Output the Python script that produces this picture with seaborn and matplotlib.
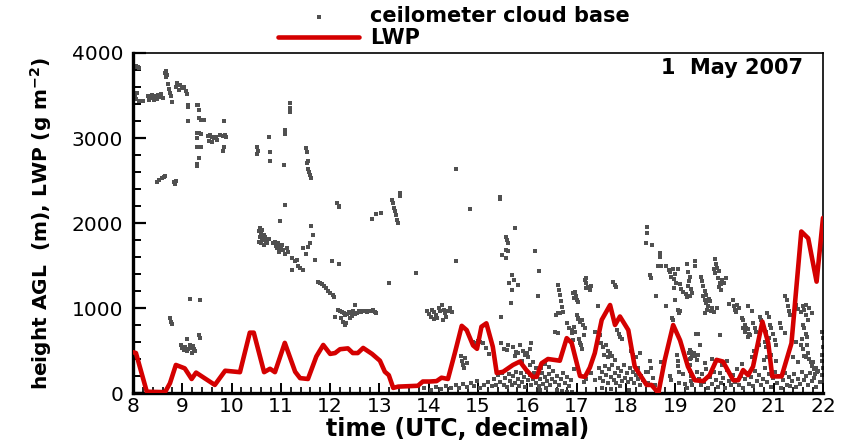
import numpy as np
import pandas as pd
import matplotlib
matplotlib.use("Agg")
import matplotlib.pyplot as plt
import seaborn as sns
from matplotlib.ticker import MultipleLocator

# ---------------------------------------------------------------------------
# Ceilometer cloud-base detections (time in decimal UTC hours, height in m AGL)
# ---------------------------------------------------------------------------
cb_time_08_10 = [
    8.03, 8.06, 8.10, 8.12, 8.03, 8.05, 8.08, 8.06, 8.12, 8.21,
    8.33, 8.36, 8.39, 8.42, 8.45, 8.48, 8.51, 8.54, 8.57, 8.60,
    8.65, 8.67, 8.69, 8.66, 8.71, 8.73, 8.76, 8.78, 8.80, 8.87,
    8.89, 8.93, 8.96, 9.00, 9.03, 9.07, 9.10, 8.48, 8.53, 8.58,
    8.62, 8.65, 8.83, 8.85, 8.87, 8.75, 8.77, 8.80, 8.97, 9.00,
    9.03, 9.06, 9.09, 9.12, 9.15, 9.18, 9.09, 9.12, 9.12, 9.12,
    9.29, 9.32, 9.34, 9.34, 9.37, 9.44, 9.29, 9.33, 9.38, 9.29,
    9.29, 9.38, 9.33, 9.29, 9.30, 9.52, 9.57, 9.60, 9.64, 9.68,
    9.76, 9.82, 9.86, 9.88, 9.55, 9.60, 9.70, 9.85, 9.82, 9.85,
    9.16, 9.35, 9.33, 9.36, 9.22, 9.26, 9.20, 9.24, 8.40, 8.30,
]
cb_height_08_10 = [
    3840, 3850, 3830, 3820, 3480, 3510, 3530, 3460, 3440, 3430,
    3450, 3480, 3510, 3450, 3490, 3460, 3500, 3480, 3520, 3470,
    3760, 3790, 3740, 3720, 3640, 3580, 3530, 3490, 3420, 3600,
    3650, 3570, 3620, 3590, 3600, 3550, 3520, 2480, 2510, 2525,
    2540, 2550, 2480, 2460, 2490, 880, 840, 810, 560, 530,
    510, 540, 500, 520, 560, 530, 630, 3390, 3360, 3200,
    3390, 3390, 3330, 3240, 3210, 3210, 3060, 3060, 3050, 3000,
    2890, 2890, 2770, 2690, 2670, 3020, 3040, 3010, 3000, 3010,
    3040, 3020, 3030, 3010, 2960, 2950, 2980, 2890, 2850, 3200,
    1110, 1100, 680, 650, 550, 500, 470, 520, 3470, 3490,
]

cb_time_10_12 = [
    10.51, 10.52, 10.53, 10.76, 10.78, 10.78, 10.55, 10.57, 10.60, 10.58,
    10.62, 10.65, 10.56, 10.60, 10.64, 10.68, 10.70, 10.72, 10.66, 10.75,
    10.62, 10.98, 10.84, 10.88, 10.91, 10.93, 10.95, 10.98, 11.00, 11.02,
    10.96, 11.05, 11.08, 11.12, 11.15, 11.22, 11.29, 11.39, 11.22, 11.45,
    11.34, 11.32, 11.06, 11.18, 11.18, 11.18, 11.08, 11.08, 11.08, 11.45,
    11.52, 11.59, 11.62, 11.66, 11.56, 11.69, 11.51, 11.53, 11.55, 11.54,
    11.55, 11.57, 11.59, 11.62, 11.75, 11.79, 11.83, 11.87, 11.92, 11.96,
    12.00, 12.05, 12.08, 12.03, 12.17,
]
cb_height_10_12 = [
    2890, 2810, 2850, 3010, 2840, 2730, 1900, 1940, 1880, 1840,
    1920, 1860, 1780, 1760, 1800, 1840, 1790, 1760, 1740, 1810,
    1820, 2020, 1760, 1780, 1730, 1700, 1760, 1720, 1690, 1740,
    1660, 1680, 1640, 1700, 1660, 1590, 1550, 1470, 1450, 1450,
    1500, 1560, 2680, 3410, 3350, 3300, 3090, 3050, 2210, 1700,
    1640, 1760, 1960, 1860, 1720, 1565, 2880, 2840, 2730, 2700,
    2640, 2600, 2570, 2530, 1310, 1300, 1280, 1260, 1230, 1200,
    1180, 1150, 1130, 1550, 1520,
]

cb_time_12_14 = [
    12.14, 12.17, 12.18, 12.16, 12.20, 12.24, 12.28, 12.30, 12.34, 12.38,
    12.42, 12.46, 12.50, 12.54, 12.58, 12.62, 12.66, 12.70, 12.74, 12.78,
    12.82, 12.86, 12.90, 12.94, 12.26, 12.30, 12.33, 12.22, 12.40, 12.50,
    12.84, 12.94, 13.04, 13.25, 13.27, 13.29, 13.31, 13.33, 13.35, 13.37,
    13.41, 13.42, 13.20, 13.75, 13.97, 14.00, 14.04, 14.06, 14.10, 14.14,
    14.17, 14.20, 14.23, 14.26, 14.30, 14.33, 14.36, 14.40, 14.44, 14.47,
    14.10, 14.28, 13.90, 14.05, 14.15, 14.25, 14.35, 14.45, 12.10, 12.45,
]
cb_height_12_14 = [
    2230, 2190, 2200, 980, 960, 950, 940, 920, 930, 950,
    940, 960, 930, 940, 960, 950, 970, 960, 950, 970,
    960, 980, 950, 940, 830, 800, 820, 880, 880, 1035,
    2050, 2110, 2120, 2270, 2230, 2180, 2140, 2090, 2040, 2000,
    2350, 2320, 1300, 1410, 960, 930, 900, 980, 950, 920,
    880, 1000, 960, 1030, 980, 940, 900, 970, 1000, 950,
    870, 860, 60, 40, 70, 50, 80, 60, 900, 910,
]

cb_time_14_16 = [
    14.55, 14.56, 14.84, 14.66, 14.68, 14.70, 14.72, 14.77, 14.74, 14.90,
    14.95, 15.00, 15.05, 15.10, 14.55, 14.62, 14.70, 14.78, 14.85, 14.92,
    14.98, 15.05, 15.12, 15.20, 15.28, 15.17, 15.22, 15.44, 15.44, 15.75,
    15.57, 15.58, 15.61, 15.56, 15.61, 15.48, 15.57, 15.68, 15.73, 15.63,
    15.82, 15.68, 15.66, 15.47, 16.15, 16.24, 16.22, 15.47, 15.52, 15.58,
    15.61, 15.70, 15.78, 15.85, 15.92, 16.00, 16.08, 16.05, 15.75, 15.82,
    15.90, 15.96, 16.02, 16.05, 16.12, 16.18, 16.27, 16.35, 16.45, 15.40,
]
cb_height_14_16 = [
    2640, 1550, 2170, 430, 380, 330, 290, 350, 410, 600,
    590, 610, 600, 590, 90, 60, 110, 70, 120, 80,
    140, 60, 100, 130, 80, 530, 460, 2310, 2280, 1940,
    1840, 1800, 1760, 1680, 1670, 1620, 1590, 1390, 1330, 1290,
    1270, 1210, 1055, 900, 1670, 1430, 1140, 585, 520, 505,
    560, 540, 480, 560, 500, 470, 590, 520, 440, 470,
    380, 450, 420, 330, 370, 300, 290, 340, 310, 240,
]

cb_time_16_18 = [
    16.62, 16.64, 16.66, 16.68, 16.70, 16.72, 16.62, 16.96, 16.98, 17.00,
    17.02, 17.20, 17.20, 17.20, 16.56, 16.59, 16.62, 16.66, 16.80, 16.85,
    16.90, 16.95, 16.97, 17.02, 17.05, 17.07, 17.17, 17.24, 17.27, 17.30,
    16.92, 16.95, 17.00, 17.03, 17.06, 17.10, 17.13, 17.17, 17.44, 16.90,
    16.93, 17.08, 17.12, 17.15, 17.37, 17.47, 17.50, 17.53, 17.60, 17.64,
    17.56, 17.63, 17.68, 17.72, 17.78, 17.74, 17.77, 17.81, 17.83, 17.86,
    17.88, 17.92, 18.11, 18.15, 18.20, 18.28, 16.60, 16.70, 16.80, 16.90,
]
cb_height_16_18 = [
    1270, 1210, 1150, 1080, 1010, 950, 940, 1190, 1140, 1100,
    1070, 1350, 1290, 1230, 720, 920, 710, 940, 820, 760,
    710, 780, 720, 870, 640, 590, 1330, 1250, 1210, 1260,
    1180, 1120, 920, 880, 840, 860, 800, 760, 1020, 740,
    620, 560, 520, 680, 720, 680, 590, 540, 560, 500,
    450, 420, 470, 440, 390, 1310, 1270, 1250, 740, 700,
    660, 640, 490, 450, 420, 470, 30, 25, 15, 10,
]

cb_time_18_20 = [
    18.42, 18.43, 18.40, 18.54, 18.69, 18.69, 18.66, 18.72, 18.49, 18.52,
    18.62, 18.82, 18.82, 18.87, 18.90, 18.95, 18.92, 18.97, 19.00, 19.05,
    19.02, 18.98, 19.10, 19.12, 19.15, 19.22, 19.25, 19.24, 19.26, 19.05,
    19.08, 19.10, 18.93, 18.96, 18.72, 18.75, 18.49, 18.52, 19.03, 19.05,
    19.06, 19.07, 19.28, 19.30, 19.31, 19.30, 19.32, 19.15, 19.40, 19.41,
    19.80, 19.82, 19.79, 19.81, 19.85, 19.88, 19.86, 19.90, 19.93, 19.89,
    19.93, 19.96, 20.00, 20.04, 19.30, 19.28, 19.26, 19.33, 19.35, 19.31,
    19.53, 19.55, 19.57, 19.60, 19.62, 19.57, 19.60, 19.63, 19.66, 19.70,
    19.68, 19.65, 19.60, 19.72, 19.75, 19.78, 19.84, 19.30, 19.32, 19.35,
    19.38, 19.40, 19.33, 19.45, 19.47, 19.43, 19.47, 19.50, 19.90, 19.00,
]
cb_height_18_20 = [
    1950, 1880, 1760, 1740, 1650, 1600, 1500, 1500, 1390, 1350,
    1140, 1020, 1500, 1450, 1420, 1460, 1370, 1340, 1400, 1460,
    1300, 1240, 1280, 1220, 1190, 1160, 1130, 1520, 1420, 980,
    940, 960, 880, 860, 370, 290, 380, 300, 450, 380,
    320, 250, 470, 400, 330, 260, 200, 220, 1550, 1490,
    1580, 1520, 1460, 1410, 1470, 1430, 1350, 1300, 1280, 1250,
    1210, 1330, 1290, 1350, 1370, 1320, 1260, 1220, 1180, 1140,
    1370, 1320, 1260, 1200, 1150, 1140, 1100, 1060, 1020, 1080,
    1110, 980, 940, 960, 1000, 950, 1000, 510, 480, 440,
    470, 440, 410, 390, 450, 700, 690, 560, 680, 1100,
]

cb_time_20_22 = [
    20.17, 20.19, 20.21, 20.23, 20.26, 20.30, 20.47, 20.55, 20.35, 20.38,
    20.42, 20.44, 20.47, 20.49, 20.52, 20.48, 20.42, 20.38, 20.58, 20.62,
    20.65, 20.72, 20.75, 20.87, 20.90, 20.85, 20.82, 20.84, 20.90, 20.88,
    20.86, 20.80, 20.92, 20.95, 20.99, 21.02, 21.05, 21.12, 21.15, 21.22,
    21.22, 21.26, 21.29, 21.31, 21.33, 21.46, 21.50, 21.55, 21.60, 21.62,
    21.66, 21.70, 21.65, 21.72, 21.77, 21.60, 21.62, 21.65, 21.67, 21.58,
    21.56, 21.60, 21.68, 21.70, 21.62, 21.66, 21.72, 21.75, 21.78, 21.80,
    21.82, 21.85, 21.88, 21.84, 21.98, 21.99, 22.00, 21.97, 21.98, 20.10,
]
cb_height_20_22 = [
    1090, 1020, 980, 950, 1040, 1000, 1020, 960, 880, 860,
    800, 770, 750, 700, 680, 660, 720, 760, 820, 760,
    720, 900, 860, 940, 900, 720, 600, 540, 650, 580,
    420, 390, 800, 760, 700, 620, 560, 820, 760, 710,
    1140, 1100, 1020, 970, 920, 1040, 990, 950, 1020, 980,
    920, 860, 1040, 1000, 940, 800, 760, 700, 660, 640,
    560, 520, 560, 470, 430, 420, 400, 370, 320, 360,
    280, 300, 250, 220, 720, 650, 540, 450, 380, 1050,
]

# shallow (boundary-layer) cloud bases, afternoon
cb_time_low_a = [
    15.32, 15.36, 15.40, 15.44, 15.48, 15.52, 15.55, 15.58, 15.62, 15.65,
    15.68, 15.72, 15.75, 15.78, 15.81, 15.84, 15.87, 15.90, 15.93, 15.96,
    15.99, 16.02, 16.05, 16.08, 16.11, 16.14, 16.17, 16.20, 16.23, 16.26,
    16.29, 16.32, 16.35, 16.38, 16.41, 16.44, 16.47, 16.50, 16.53, 16.56,
    16.60, 16.64, 16.68, 16.72, 16.76, 16.80, 16.84, 16.88, 16.95, 17.15,
    17.20, 17.30, 17.38, 17.45, 17.48, 17.51, 17.54, 17.57, 17.60, 17.63,
    17.66, 17.69, 17.72, 17.75, 17.78, 17.81, 17.84, 17.87, 17.90, 17.93,
    17.96, 17.99, 18.02, 18.05, 18.08, 18.11, 18.14, 18.17, 18.20, 18.24,
    18.28, 18.25, 18.30, 18.35, 18.40, 18.45, 18.55, 18.60, 19.08, 19.33,
    19.35, 19.20, 18.90, 18.92, 18.45, 17.52, 17.70, 17.88, 18.06, 16.25,
]
cb_height_low_a = [
    160, 90, 210, 130, 240, 100, 180, 70, 220, 140,
    90, 200, 120, 250, 160, 80, 230, 130, 190, 70,
    250, 150, 210, 90, 170, 240, 120, 200, 80, 160,
    230, 110, 190, 60, 140, 220, 100, 170, 260, 130,
    200, 90, 160, 240, 120, 190, 80, 150, 280, 130,
    170, 240, 150, 300, 180, 250, 140, 320, 210, 120,
    280, 190, 330, 150, 240, 120, 300, 200, 260, 140,
    330, 180, 230, 130, 290, 170, 250, 120, 210, 160,
    90, 300, 200, 150, 250, 120, 180, 90, 120, 140,
    90, 110, 200, 150, 250, 60, 50, 80, 40, 40,
]

cb_time_low_b = [
    19.45, 19.48, 19.52, 19.55, 19.58, 19.62, 19.66, 19.70, 19.74, 19.78,
    19.82, 19.86, 19.90, 19.94, 19.98, 20.02, 20.06, 20.10, 20.14, 20.18,
    20.22, 20.26, 20.30, 20.34, 20.38, 20.42, 20.46, 20.50, 20.54, 20.58,
    20.62, 20.66, 20.70, 20.74, 20.78, 20.82, 20.86, 20.90, 20.94, 20.98,
    21.02, 21.06, 21.10, 21.14, 21.18, 21.22, 21.26, 21.30, 21.34, 21.38,
    21.42, 21.46, 21.50, 21.54, 21.58, 21.62, 21.66, 21.70, 21.74, 21.78,
    21.82, 21.86, 21.90, 21.94, 21.97, 21.99, 19.60, 19.75, 19.95, 20.05,
    20.35, 20.55, 20.60, 20.70, 20.95, 21.05, 21.40, 21.45, 21.50, 19.25,
]
cb_height_low_b = [
    250, 160, 90, 220, 130, 280, 60, 190, 110, 250,
    150, 70, 230, 120, 180, 60, 270, 140, 90, 210,
    130, 280, 100, 200, 60, 170, 240, 110, 190, 80,
    260, 140, 210, 90, 170, 300, 130, 220, 70, 180,
    250, 120, 200, 60, 150, 240, 100, 190, 80, 140,
    220, 70, 170, 110, 250, 150, 200, 90, 230, 140,
    180, 70, 260, 130, 210, 290, 350, 400, 330, 380,
    340, 420, 500, 560, 450, 380, 420, 600, 360, 60,
]

# ---------------------------------------------------------------------------
# Microwave-radiometer liquid water path (g m-2)
# ---------------------------------------------------------------------------
lwp_time = [
    8.00, 8.06, 8.28, 8.65, 8.75, 8.87, 9.05, 9.19, 9.28, 9.66,
    9.87, 10.17, 10.37, 10.45, 10.66, 10.78, 10.88, 11.08, 11.29, 11.39,
    11.55, 11.72, 11.86, 12.00, 12.10, 12.20, 12.36, 12.46, 12.56, 12.67,
    12.85, 13.01, 13.11, 13.19, 13.28, 13.38, 13.78, 13.88, 14.02, 14.16,
    14.26, 14.39, 14.53, 14.67, 14.77, 14.90, 14.98, 15.07, 15.17, 15.30,
    15.38, 15.51, 15.71, 15.85, 15.98, 16.11, 16.19, 16.29, 16.42, 16.66,
    16.80, 16.90, 17.07, 17.17, 17.27, 17.37, 17.51, 17.68, 17.78, 17.88,
    18.05, 18.18, 18.42, 18.52, 18.66, 18.79, 18.96, 19.10, 19.26, 19.40,
    19.57, 19.70, 19.84, 19.97, 20.18, 20.28, 20.38, 20.48, 20.58, 20.77,
    20.89, 20.97, 21.16, 21.36, 21.56, 21.70, 21.87, 22.00,
]
lwp_value = [
    480, 470, 15, 10, 115, 330, 290, 165, 240, 95,
    262, 245, 710, 710, 245, 285, 245, 590, 250, 175,
    165, 430, 565, 460, 470, 515, 525, 470, 470, 530,
    460, 380, 250, 210, 60, 75, 85, 135, 135, 140,
    180, 165, 470, 790, 740, 560, 520, 780, 820, 545,
    235, 250, 330, 370, 270, 190, 190, 350, 400, 380,
    645, 590, 200, 190, 300, 470, 860, 1035, 800, 900,
    740, 310, 95, 95, 0, 390, 800, 620, 310, 150,
    140, 210, 390, 370, 150, 150, 270, 210, 310, 840,
    585, 195, 195, 585, 1900, 1820, 1310, 2060,
]

x_ticks = list(range(8, 23))
y_ticks = [0, 1000, 2000, 3000, 4000]

cloud = pd.DataFrame({
    "time": (cb_time_08_10 + cb_time_10_12 + cb_time_12_14 + cb_time_14_16
             + cb_time_16_18 + cb_time_18_20 + cb_time_20_22
             + cb_time_low_a + cb_time_low_b),
    "height": (cb_height_08_10 + cb_height_10_12 + cb_height_12_14
               + cb_height_14_16 + cb_height_16_18 + cb_height_18_20
               + cb_height_20_22 + cb_height_low_a + cb_height_low_b),
})
lwp = pd.DataFrame({"time": lwp_time, "lwp": lwp_value})

# ---------------------------------------------------------------------------
sns.set_theme(style="ticks")
plt.rcParams["font.family"] = ["DejaVu Sans"]
plt.rcParams["text.color"] = "black"
plt.rcParams["axes.labelcolor"] = "black"
plt.rcParams["xtick.color"] = "black"
plt.rcParams["ytick.color"] = "black"

fig = plt.figure(figsize=(8.44, 4.40), dpi=100)
ax = fig.add_axes([133 / 844, 47 / 440, 690 / 844, 340 / 440])

sns.scatterplot(data=cloud, x="time", y="height", marker="s", s=11,
                color="#505050", linewidth=0, ax=ax,
                label="ceilometer cloud base", zorder=2)
sns.lineplot(data=lwp, x="time", y="lwp", color="#d40000", linewidth=3.3,
             estimator=None, ax=ax, label="LWP", zorder=3)

ax.set_xlim(8, 22)
ax.set_ylim(0, 4000)
ax.set_xticks(x_ticks)
ax.set_yticks(y_ticks)
ax.xaxis.set_minor_locator(MultipleLocator(0.2))
ax.yaxis.set_minor_locator(MultipleLocator(200))

ax.tick_params(axis="both", which="both", direction="in", color="black",
               labelcolor="black", labelsize=14.5)
ax.tick_params(axis="x", which="major", length=7, width=1.4, pad=3,
               top=False)
ax.tick_params(axis="x", which="minor", length=4, width=1.2, top=False)
ax.tick_params(axis="y", which="major", length=9, width=1.6, pad=7,
               right=False)
ax.tick_params(axis="y", which="minor", length=6, width=1.4, right=False)

for side in ("left", "bottom"):
    ax.spines[side].set_linewidth(2.4)
for side in ("top", "right"):
    ax.spines[side].set_linewidth(1.2)
    ax.spines[side].set_visible(True)
for sp in ax.spines.values():
    sp.set_color("black")

ax.set_xlabel("time (UTC, decimal)", fontsize=17, fontweight="bold",
              color="black")
ax.set_ylabel(r"height AGL  (m), LWP (g m$^{\mathbf{-2}}$)", fontsize=14.5,
              fontweight="bold", color="black")
ax.xaxis.set_label_coords(0.471, -0.072)
ax.yaxis.set_label_coords(-0.115, 0.5)

ax.text(0.971, 0.985, "1  May 2007", transform=ax.transAxes, ha="right",
        va="top", fontsize=15, fontweight="bold", color="black")

handles, labels = ax.get_legend_handles_labels()
ax.get_legend().remove()
fig.legend(handles, labels, loc="upper left",
           bbox_to_anchor=(278 / 844, 1 - 6 / 440),
           bbox_transform=fig.transFigure, frameon=False,
           prop={"weight": "bold", "size": 15}, handlelength=3.9,
           handletextpad=0.5, labelspacing=0.12, borderpad=0,
           borderaxespad=0, markerscale=1.0)

fig.savefig("out.png", dpi=100)
